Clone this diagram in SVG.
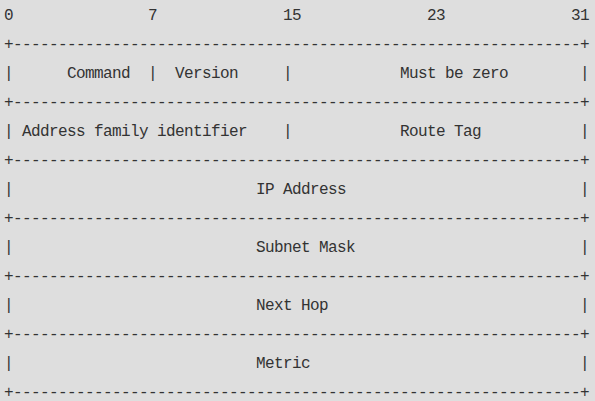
<svg xmlns="http://www.w3.org/2000/svg" width="595" height="401" viewBox="0 0 595 401">
<style>
text{font-family:"Liberation Mono","DejaVu Sans Mono",monospace;font-size:16px;letter-spacing:-0.6px;fill:#333;white-space:pre}
</style>
<rect width="595" height="401" fill="#dedede"/>
<g id="bit-ruler">
<text x="4" y="20">0</text>
<text x="148" y="20">7</text>
<text x="283" y="20">15</text>
<text x="427" y="20">23</text>
<text x="571" y="20">31</text>
</g>
<g id="connectors">
<text x="4" y="49">+---------------------------------------------------------------+</text>
<text x="4" y="107">+---------------------------------------------------------------+</text>
<text x="4" y="165">+---------------------------------------------------------------+</text>
<text x="4" y="223">+---------------------------------------------------------------+</text>
<text x="4" y="281">+---------------------------------------------------------------+</text>
<text x="4" y="339">+---------------------------------------------------------------+</text>
<text x="4" y="397">+---------------------------------------------------------------+</text>
</g>
<g id="row-command">
<text x="4" y="78">|</text>
<text x="67" y="78">Command</text>
<text x="148" y="78">|</text>
<text x="175" y="78">Version</text>
<text x="283" y="78">|</text>
<text x="400" y="78">Must be zero</text>
<text x="580" y="78">|</text>
</g>
<g id="row-afi">
<text x="4" y="136">|</text>
<text x="22" y="136">Address family identifier</text>
<text x="283" y="136">|</text>
<text x="400" y="136">Route Tag</text>
<text x="580" y="136">|</text>
</g>
<g id="row-ip">
<text x="4" y="194">|</text>
<text x="256" y="194">IP Address</text>
<text x="580" y="194">|</text>
</g>
<g id="row-mask">
<text x="4" y="252">|</text>
<text x="256" y="252">Subnet Mask</text>
<text x="580" y="252">|</text>
</g>
<g id="row-nexthop">
<text x="4" y="310">|</text>
<text x="256" y="310">Next Hop</text>
<text x="580" y="310">|</text>
</g>
<g id="row-metric">
<text x="4" y="368">|</text>
<text x="256" y="368">Metric</text>
<text x="580" y="368">|</text>
</g>
</svg>
